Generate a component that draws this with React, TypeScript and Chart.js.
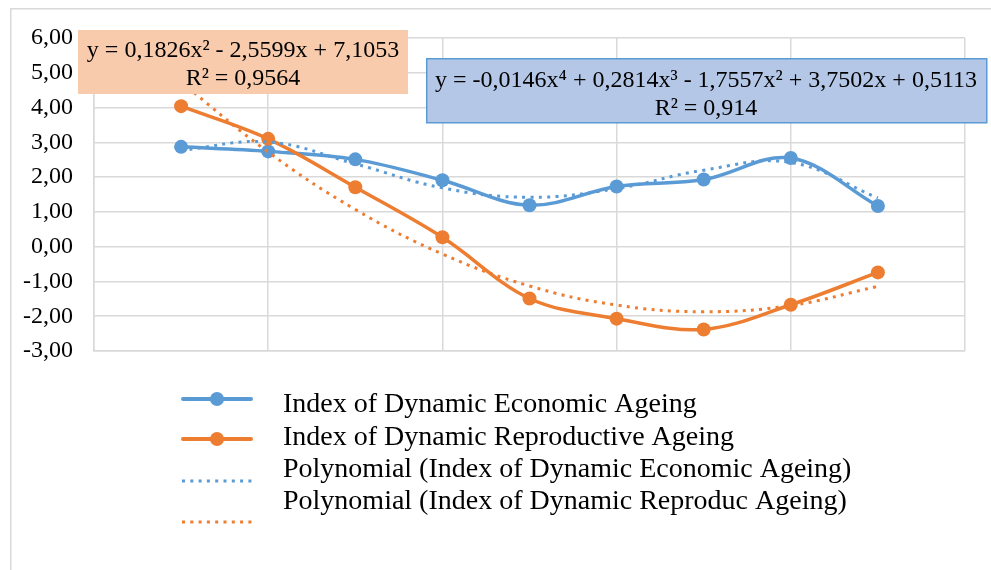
import React, { useEffect, useRef } from "react";
import { Chart, registerables } from "chart.js";

Chart.register(...registerables);

// Category positions (x values of the points)
const X_VALUES = [1, 2, 3, 4, 5, 6, 7, 8, 9];

// Series values
const ECONOMIC = [2.87, 2.74, 2.51, 1.91, 1.19, 1.73, 1.93, 2.55, 1.17];
const REPRODUCTIVE = [4.04, 3.1, 1.71, 0.27, -1.49, -2.07, -2.38, -1.67, -0.74];

// Trendline values
const ECONOMIC_TREND = [2.77, 3.01, 2.38, 1.69, 1.42, 1.67, 2.2, 2.42, 1.4];
const REPRODUCTIVE_TREND = [4.73, 2.72, 1.07, -0.21, -1.13, -1.68, -1.87, -1.69, -1.14];

const SERIES_NAMES = [
  "Index of Dynamic Economic Ageing",
  "Index of Dynamic Reproductive Ageing",
  "Polynomial (Index of Dynamic Economic Ageing)",
  "Polynomial (Index of Dynamic Reproduc Ageing)",
];

const ORANGE_EQ = ["y = 0,1826x² - 2,5599x + 7,1053", "R² = 0,9564"];
const BLUE_EQ = ["y = -0,0146x⁴ + 0,2814x³ - 1,7557x² + 3,7502x + 0,5113", "R² = 0,914"];

const BLUE = "#5B9BD5";
const ORANGE = "#ED7D31";
const GRID = "#D9D9D9";
const FONT = '"Liberation Serif", "Times New Roman", serif';

const toPts = (ys: number[]) => X_VALUES.map((x, i) => ({ x, y: ys[i] }));

const overlayPlugin = {
  id: "overlay",
  beforeDraw(chart: any) {
    const ctx = chart.ctx;
    ctx.save();
    ctx.strokeStyle = GRID;
    ctx.lineWidth = 1.5;
    ctx.strokeRect(10.75, 8.75, 1400, 1400);
    ctx.restore();
  },
  afterDraw(chart: any) {
    const ctx = chart.ctx;
    ctx.save();
    // orange equation box
    ctx.fillStyle = "#F8CBAD";
    ctx.fillRect(78, 30, 330, 64);
    ctx.fillStyle = "#000";
    ctx.font = `24px ${FONT}`;
    ctx.textAlign = "center";
    ctx.textBaseline = "alphabetic";
    ctx.fillText(ORANGE_EQ[0], 243, 57);
    ctx.fillText(ORANGE_EQ[1], 243, 85);
    // blue equation box
    ctx.fillStyle = "#B4C7E7";
    ctx.fillRect(426, 58, 561, 65);
    ctx.strokeStyle = BLUE;
    ctx.lineWidth = 1.5;
    ctx.strokeRect(426.75, 58.75, 560, 64);
    ctx.fillStyle = "#000";
    ctx.fillText(BLUE_EQ[0], 706, 87);
    ctx.fillText(BLUE_EQ[1], 706, 115);

    // legend
    const rows = [
      { color: BLUE, dotted: false, sy: 399, ty: 412 },
      { color: ORANGE, dotted: false, sy: 439, ty: 445 },
      { color: BLUE, dotted: true, sy: 481, ty: 477 },
      { color: ORANGE, dotted: true, sy: 522, ty: 509 },
    ];
    rows.forEach((r, i) => {
      ctx.strokeStyle = r.color;
      ctx.fillStyle = r.color;
      if (r.dotted) {
        ctx.lineWidth = 3;
        ctx.setLineDash([3, 5.3]);
        ctx.lineCap = "butt";
        ctx.beginPath();
        ctx.moveTo(182, r.sy);
        ctx.lineTo(254, r.sy);
        ctx.stroke();
        ctx.setLineDash([]);
      } else {
        ctx.lineWidth = 4;
        ctx.lineCap = "round";
        ctx.beginPath();
        ctx.moveTo(183, r.sy);
        ctx.lineTo(251, r.sy);
        ctx.stroke();
        ctx.beginPath();
        ctx.arc(217, r.sy, 7, 0, Math.PI * 2);
        ctx.fill();
      }
      ctx.fillStyle = "#000";
      ctx.font = `28px ${FONT}`;
      ctx.textAlign = "left";
      ctx.fillText(SERIES_NAMES[i], 283, r.ty);
    });
    ctx.restore();
  },
};

export default function App() {
  const ref = useRef<HTMLCanvasElement | null>(null);

  useEffect(() => {
    if (!ref.current) return;
    const chart = new Chart(ref.current, {
      type: "line",
      data: {
        datasets: [
          {
            label: SERIES_NAMES[3],
            data: toPts(REPRODUCTIVE_TREND),
            borderColor: ORANGE,
            borderWidth: 3,
            borderDash: [3, 5.3],
            pointRadius: 0,
            tension: 0.4,
            order: 0,
          },
          {
            label: SERIES_NAMES[2],
            data: toPts(ECONOMIC_TREND),
            borderColor: BLUE,
            borderWidth: 3,
            borderDash: [3, 5.3],
            pointRadius: 0,
            tension: 0.4,
            order: 1,
          },
          {
            label: SERIES_NAMES[1],
            data: toPts(REPRODUCTIVE),
            borderColor: ORANGE,
            backgroundColor: ORANGE,
            borderWidth: 3.5,
            pointRadius: 7,
            pointBorderWidth: 0,
            pointBackgroundColor: ORANGE,
            tension: 0.35,
            order: 2,
          },
          {
            label: SERIES_NAMES[0],
            data: toPts(ECONOMIC),
            borderColor: BLUE,
            backgroundColor: BLUE,
            borderWidth: 3.5,
            pointRadius: 7,
            pointBorderWidth: 0,
            pointBackgroundColor: BLUE,
            tension: 0.35,
            order: 3,
          },
        ],
      },
      options: {
        animation: false,
        responsive: false,
        maintainAspectRatio: false,
        events: [],
        layout: { padding: { left: 0, top: 38, right: 26, bottom: 219 } },
        plugins: { legend: { display: false }, tooltip: { enabled: false } },
        scales: {
          x: {
            type: "linear",
            min: 0,
            max: 10,
            ticks: { display: false, stepSize: 2 },
            grid: { color: GRID, lineWidth: 1.5, drawTicks: false },
            border: { display: true, color: GRID, width: 1.5 },
          },
          y: {
            min: -3,
            max: 6,
            ticks: {
              stepSize: 1,
              padding: 21,
              color: "#000",
              font: { family: FONT, size: 24 },
              callback: (v: any) => Number(v).toFixed(2).replace(".", ","),
            },
            grid: { color: GRID, lineWidth: 1.5, drawTicks: false },
            border: { display: true, color: GRID, width: 1.5 },
            afterFit: (s: any) => {
              s.width = 94;
            },
          },
        },
      },
      plugins: [overlayPlugin],
    });
    const fonts: any = (document as any).fonts;
    if (fonts && fonts.load) {
      Promise.all([fonts.load(`24px ${FONT}`), fonts.load(`28px ${FONT}`)]).then(() => {
        if ((chart as any).ctx) chart.update();
      });
    }
    return () => chart.destroy();
  }, []);

  return (
    <div style={{ position: "absolute", left: 0, top: 0, width: 991, height: 570, background: "#fff", overflow: "hidden" }}>
      <canvas ref={ref} width={991} height={570} style={{ width: 991, height: 570, display: "block" }} />
    </div>
  );
}
